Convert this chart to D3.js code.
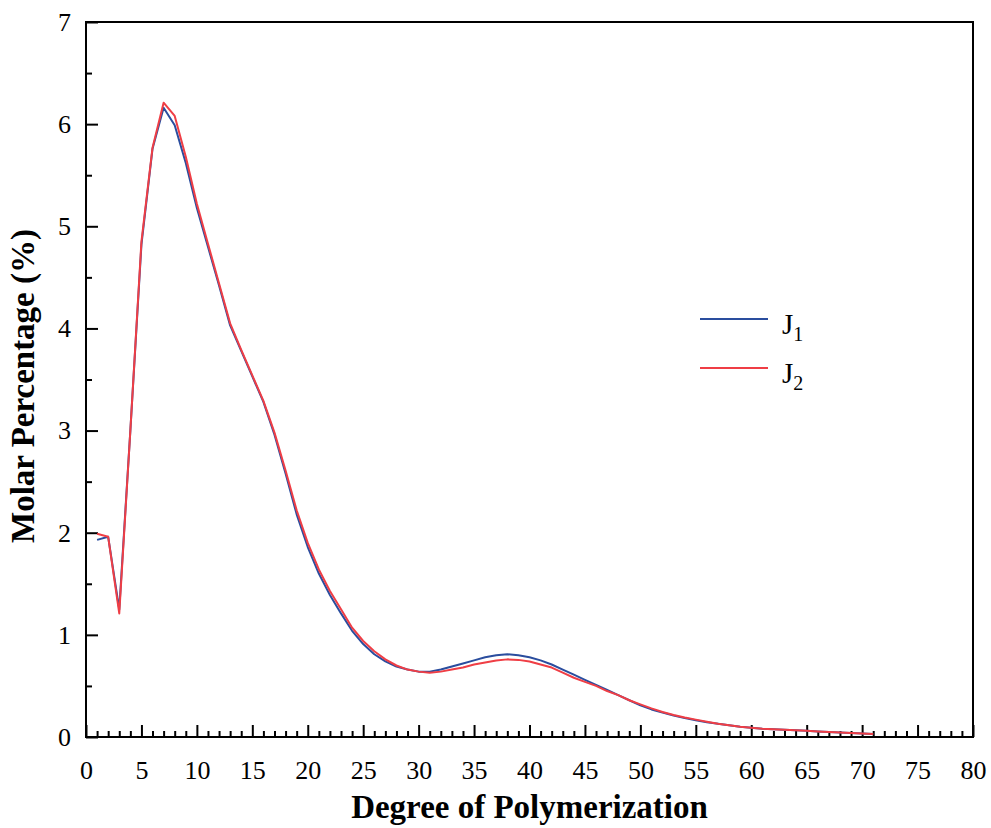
<!DOCTYPE html>
<html>
<head>
<meta charset="utf-8">
<script src="https://cdn.jsdelivr.net/npm/d3@7"></script>
<style>
  body { margin: 0; background: #fff; }
  svg, svg text { font-family: "Liberation Serif", "Times New Roman", serif; }
</style>
</head>
<body>
<div id="chart_container"></div>
<script>
// degree of polymerization 1..71
const dp = d3.range(1, 72);

const j1_values = [1.93, 1.96, 1.25, 3.0, 4.82, 5.76, 6.16, 5.99, 5.62, 5.18,
    4.8, 4.42, 4.03, 3.78, 3.53, 3.28, 2.96, 2.58, 2.18, 1.86,
    1.6, 1.39, 1.21, 1.04, 0.91, 0.81, 0.74, 0.69, 0.66, 0.64,
    0.64, 0.66, 0.69, 0.72, 0.75, 0.78, 0.8, 0.81, 0.8, 0.78,
    0.75, 0.71, 0.66, 0.61, 0.56, 0.51, 0.46, 0.41, 0.36, 0.31,
    0.27, 0.24, 0.21, 0.185, 0.165, 0.145, 0.13, 0.115, 0.1, 0.09,
    0.08, 0.075, 0.07, 0.065, 0.06, 0.055, 0.05, 0.045, 0.04, 0.035, 0.03];

const j2_values = [1.99, 1.96, 1.21, 3.0, 4.85, 5.77, 6.21, 6.08, 5.68, 5.22,
    4.83, 4.44, 4.05, 3.79, 3.54, 3.29, 2.98, 2.61, 2.22, 1.9,
    1.64, 1.43, 1.25, 1.07, 0.94, 0.84, 0.76, 0.7, 0.66, 0.64,
    0.63, 0.64, 0.66, 0.68, 0.71, 0.73, 0.75, 0.76, 0.755, 0.74,
    0.71, 0.68, 0.63, 0.58, 0.54, 0.5, 0.45, 0.41, 0.36, 0.32,
    0.28, 0.245, 0.215, 0.19, 0.17, 0.15, 0.13, 0.115, 0.1, 0.09,
    0.08, 0.075, 0.07, 0.065, 0.06, 0.055, 0.05, 0.045, 0.04, 0.035, 0.03];

const series_names = ["1", "2"];
const series_colors = ["#2a4d9e", "#ef3e45"];
const x_ticks = d3.range(0, 81, 5);
const y_ticks = d3.range(0, 8, 1);

const margin = { top: 22, right: 18, bottom: 91, left: 86 },
    width = 991 - margin.left - margin.right,
    height = 828 - margin.top - margin.bottom;

const serif = '"Liberation Serif", "Times New Roman", serif';

const svg = d3.select("#chart_container")
    .append("svg")
    .attr("width", 991)
    .attr("height", 828)
    .append("g")
    .attr("transform", `translate(${margin.left}, ${margin.top})`);

const x = d3.scaleLinear().domain([0, 80]).range([0, width]);
const y = d3.scaleLinear().domain([0, 7]).range([height, 0]);

// minor ticks first, then major
svg.append("g")
    .attr("transform", `translate(0, ${height})`)
    .call(d3.axisBottom(x).tickValues(d3.range(0, 81, 1).filter(v => v % 5 !== 0)).tickSize(-6).tickFormat(""))
    .call(g => g.select(".domain").remove())
    .selectAll("line").attr("stroke", "#000").attr("stroke-width", 2);

svg.append("g")
    .attr("transform", `translate(0, ${height})`)
    .attr("font-family", serif)
    .call(d3.axisBottom(x).tickValues(x_ticks).tickSize(-12).tickPadding(24).tickFormat(d3.format("d")))
    .call(g => g.select(".domain").remove())
    .call(g => g.selectAll("line").attr("stroke", "#000").attr("stroke-width", 2))
    .selectAll("text")
    .style("font-family", serif)
    .style("font-size", "26px")
    .attr("fill", "#000");

svg.append("g")
    .call(d3.axisLeft(y).tickValues(d3.range(0.5, 7, 1)).tickSize(-6).tickFormat(""))
    .call(g => g.select(".domain").remove())
    .selectAll("line").attr("stroke", "#000").attr("stroke-width", 2);

svg.append("g")
    .call(d3.axisLeft(y).tickValues(y_ticks).tickSize(-12).tickPadding(15).tickFormat(d3.format("d")))
    .call(g => g.select(".domain").remove())
    .call(g => g.selectAll("line").attr("stroke", "#000").attr("stroke-width", 2))
    .selectAll("text")
    .style("font-family", serif)
    .style("font-size", "26px")
    .attr("fill", "#000");

// frame
svg.append("rect")
    .attr("x", 0)
    .attr("y", 0)
    .attr("width", width)
    .attr("height", height)
    .attr("fill", "none")
    .attr("stroke", "#000")
    .attr("stroke-width", 2);

const line = d3.line()
    .x(d => x(d[0]))
    .y(d => y(d[1]));

[j1_values, j2_values].forEach(function (vals, i) {
    svg.append("path")
        .datum(dp.map((d, k) => [d, vals[k]]))
        .attr("fill", "none")
        .attr("stroke", series_colors[i])
        .attr("stroke-width", 2)
        .attr("stroke-linejoin", "round")
        .attr("d", line);
});

// legend
const legend = svg.append("g")
    .attr("transform", `translate(${700 - margin.left}, ${319 - margin.top})`);

series_names.forEach(function (name, i) {
    const row = legend.append("g").attr("transform", `translate(0, ${i * 49})`);
    row.append("line")
        .attr("x1", 0).attr("x2", 68)
        .attr("y1", 0).attr("y2", 0)
        .attr("stroke", series_colors[i])
        .attr("stroke-width", 2);
    const t = row.append("text")
        .attr("x", 82)
        .attr("y", 15)
        .style("font-size", "29px")
        .attr("fill", "#000")
        .text("J");
    t.append("tspan")
        .attr("dy", 7)
        .style("font-size", "20px")
        .text(name);
});

// axis titles
svg.append("text")
    .attr("x", width / 2)
    .attr("y", height + 81)
    .attr("text-anchor", "middle")
    .style("font-size", "33px")
    .style("font-weight", "700")
    .text("Degree of Polymerization");

svg.append("text")
    .attr("transform", `translate(${-52}, ${386 - margin.top}) rotate(-90)`)
    .attr("text-anchor", "middle")
    .style("font-size", "33px")
    .style("font-weight", "700")
    .text("Molar Percentage (%)");
</script>
</body>
</html>
